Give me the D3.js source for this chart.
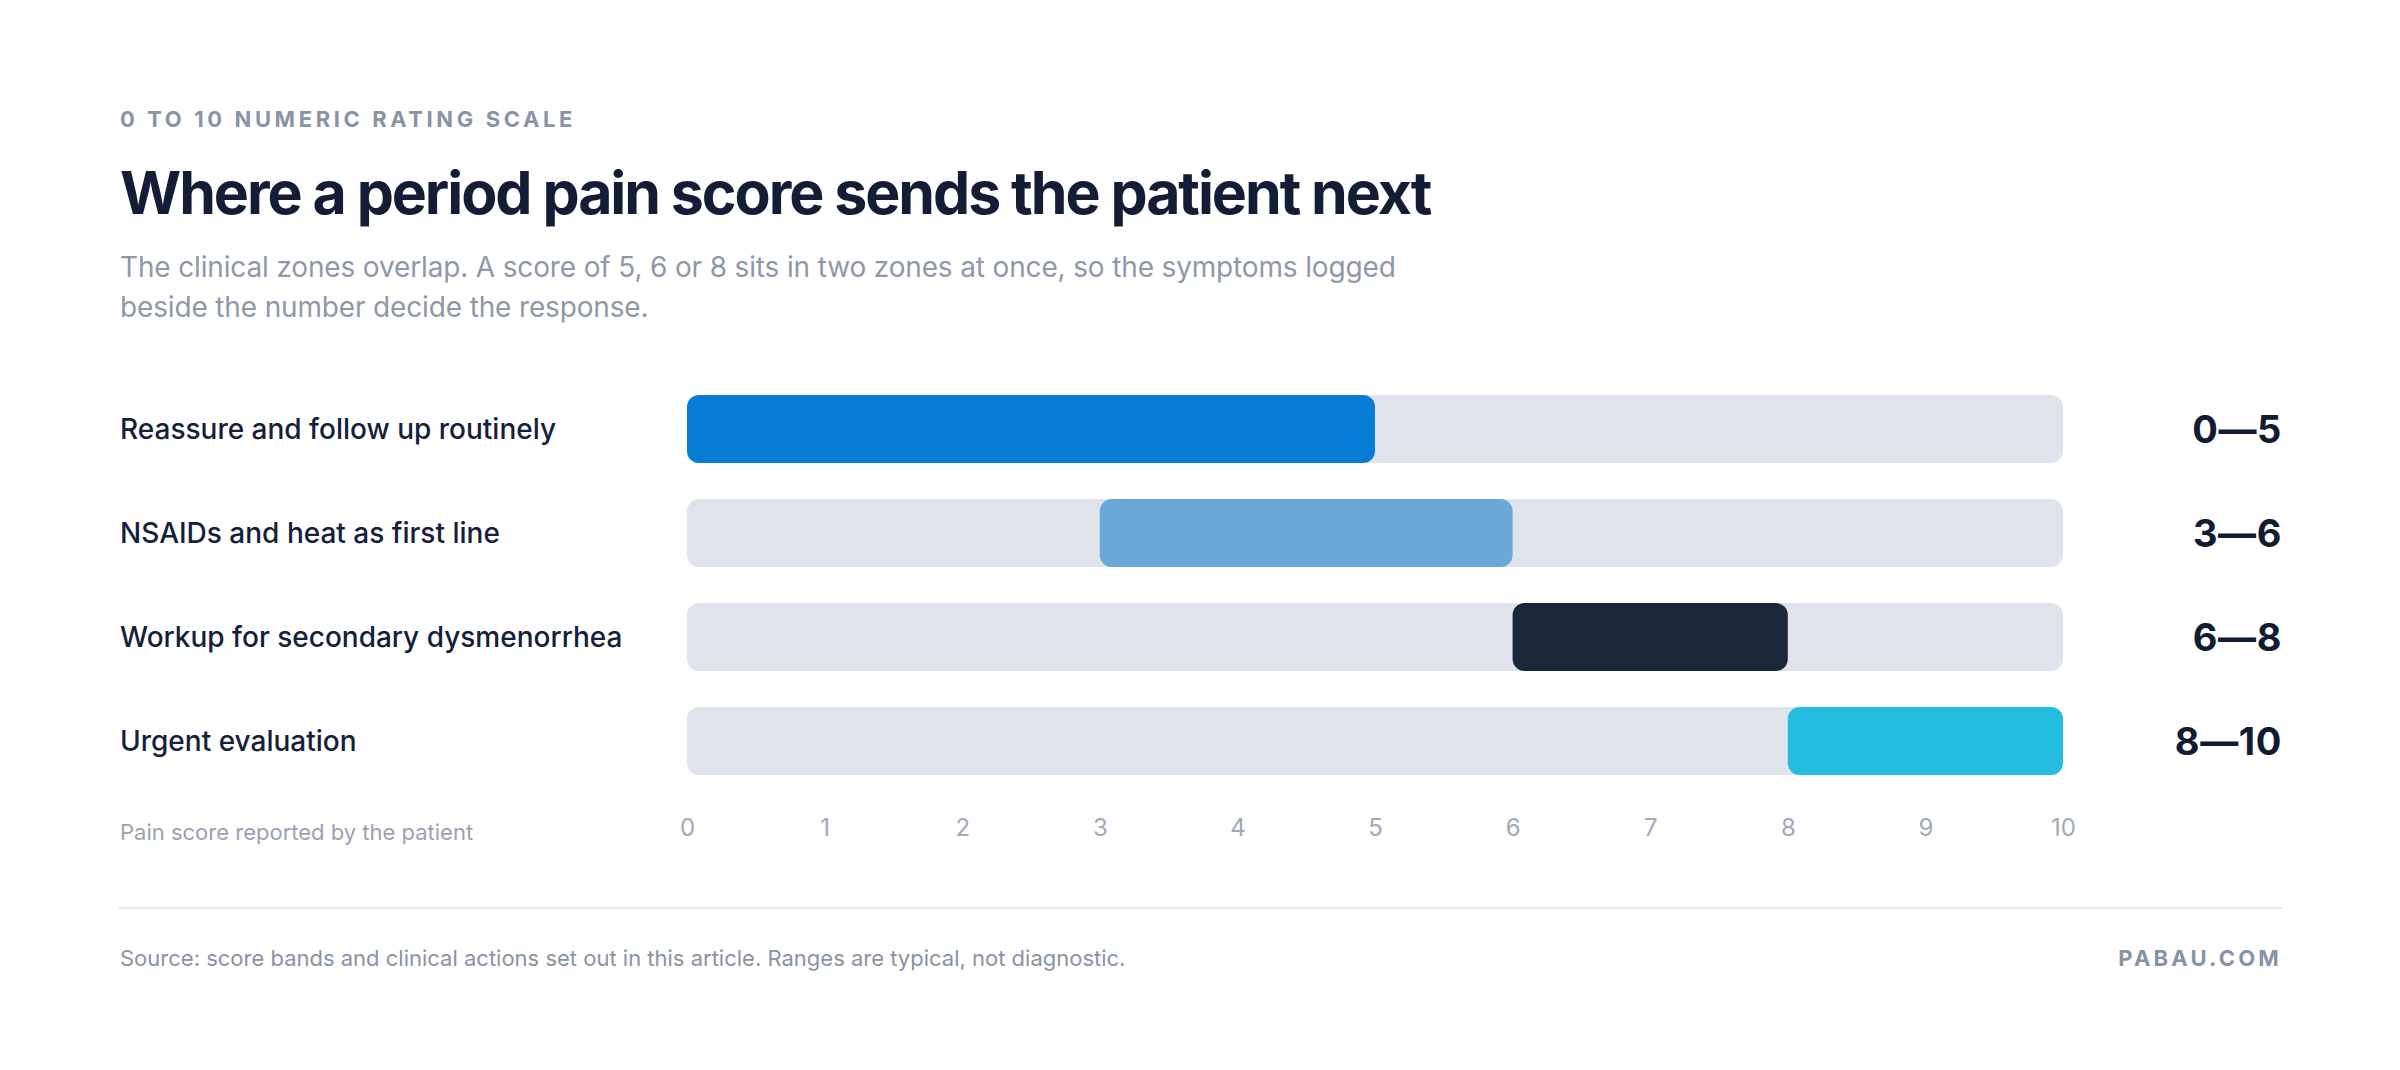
<!DOCTYPE html>
<html>
<head>
<meta charset="utf-8">
<script src="https://cdn.jsdelivr.net/npm/d3@7"></script>
<style>
  html, body { margin: 0; padding: 0; background: #ffffff; }
  svg { display: block; font-family: Inter, "Noto Sans", sans-serif; }
</style>
</head>
<body>
<svg id="chart" width="2400" height="1070"></svg>
<script>
// zones on the 0-10 pain scale
const actions = [
  "Reassure and follow up routinely",
  "NSAIDs and heat as first line",
  "Workup for secondary dysmenorrhea",
  "Urgent evaluation"
];
const zoneStart = [0, 3, 6, 8];
const zoneEnd = [5, 6, 8, 10];
const zoneLabels = ["0—5", "3—6", "6—8", "8—10"];
const zoneColors = ["#067cd4", "#6aa8d8", "#1c2639", "#24bde0"];
const scoreTicks = [0, 1, 2, 3, 4, 5, 6, 7, 8, 9, 10];

const svg = d3.select("#chart");

const left = 120, right = 2282;

// header
svg.append("text")
  .attr("x", left).attr("y", 127)
  .attr("fill", "#8a93a5")
  .attr("font-size", 22).attr("font-weight", 700)
  .attr("letter-spacing", 3.6)
  .text("0 TO 10 NUMERIC RATING SCALE");

svg.append("text")
  .attr("x", left).attr("y", 214)
  .attr("fill", "#131d35")
  .attr("font-size", 59).attr("font-weight", 700)
  .attr("letter-spacing", -2.05)
  .text("Where a period pain score sends the patient next");

const sub = svg.append("text")
  .attr("fill", "#8f98a8")
  .attr("font-size", 28).attr("font-weight", 400)
  .attr("letter-spacing", -0.15);
["The clinical zones overlap. A score of 5, 6 or 8 sits in two zones at once, so the symptoms logged",
 "beside the number decide the response."].forEach((line, i) => {
  sub.append("tspan").attr("x", left).attr("y", 277 + i * 40).text(line);
});

// scales
const x = d3.scaleLinear().domain([0, 10]).range([687, 2063]);
const y = d3.scaleBand().domain(actions).range([377, 793])
  .paddingInner(36 / 104).paddingOuter(18 / 104);

const rows = svg.append("g").selectAll("g")
  .data(actions)
  .join("g")
  .attr("transform", d => `translate(0,${y(d)})`);

// grey track
rows.append("rect")
  .attr("x", x(0)).attr("width", x(10) - x(0))
  .attr("height", y.bandwidth())
  .attr("rx", 12)
  .attr("fill", "#dfe3eb");

// zone bar
rows.append("rect")
  .attr("x", (d, i) => x(zoneStart[i]))
  .attr("width", (d, i) => x(zoneEnd[i]) - x(zoneStart[i]))
  .attr("height", y.bandwidth())
  .attr("rx", 12)
  .attr("fill", (d, i) => zoneColors[i]);

// row labels
rows.append("text")
  .attr("x", left).attr("y", y.bandwidth() / 2)
  .attr("dy", "0.37em")
  .attr("fill", "#15203a")
  .attr("font-size", 28).attr("font-weight", 500)
  .text(d => d);

// range labels
rows.append("text")
  .attr("x", right).attr("y", y.bandwidth() / 2)
  .attr("dy", "0.36em")
  .attr("text-anchor", "end")
  .attr("fill", "#111b33")
  .attr("font-size", 38).attr("font-weight", 700)
  .attr("letter-spacing", 0.6)
  .text((d, i) => zoneLabels[i]);

// axis
const axis = svg.append("g")
  .attr("transform", "translate(0,836)")
  .call(d3.axisBottom(x).tickValues(scoreTicks).tickSize(0).tickFormat(d3.format("d")));
axis.select(".domain").remove();
axis.selectAll("text")
  .attr("y", 0).attr("dy", 0)
  .attr("fill", "#a2a9b7")
  .attr("font-size", 24)
  .attr("font-family", "Inter, sans-serif");

svg.append("text")
  .attr("x", left).attr("y", 840)
  .attr("fill", "#9aa2b1")
  .attr("font-size", 22)
  .text("Pain score reported by the patient");

// footer
svg.append("line")
  .attr("x1", left - 1).attr("x2", right)
  .attr("y1", 908).attr("y2", 908)
  .attr("stroke", "#e3e6ed").attr("stroke-width", 2);

svg.append("text")
  .attr("x", left).attr("y", 966)
  .attr("fill", "#8a93a3")
  .attr("font-size", 22)
  .text("Source: score bands and clinical actions set out in this article. Ranges are typical, not diagnostic.");

svg.append("text")
  .attr("x", right).attr("y", 966)
  .attr("text-anchor", "end")
  .attr("fill", "#8792a6")
  .attr("font-size", 22).attr("font-weight", 700)
  .attr("letter-spacing", 3.2)
  .text("PABAU.COM");
</script>
</body>
</html>
